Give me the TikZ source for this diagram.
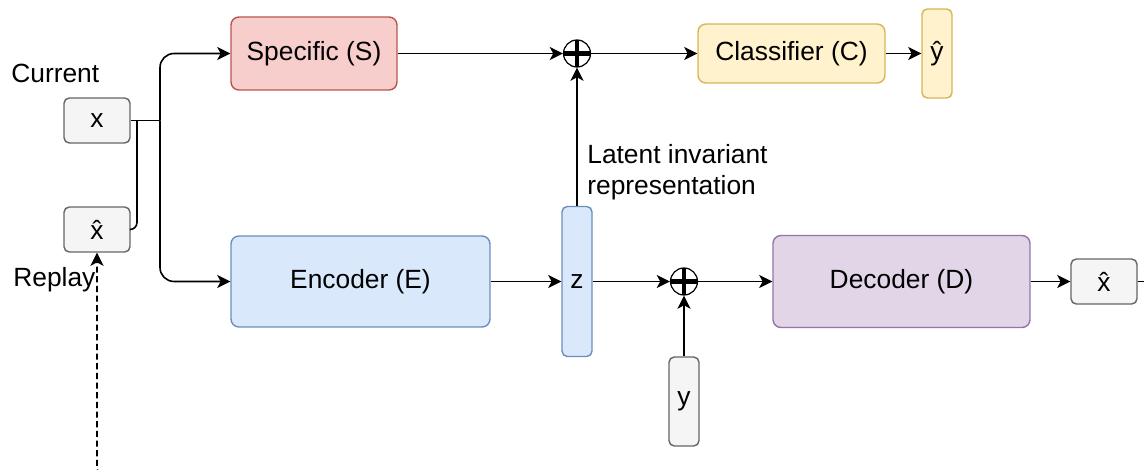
\documentclass[tikz,border=0pt]{standalone}
\usepackage{fontspec}
\setmainfont{Liberation Sans}
\usetikzlibrary{arrows.meta}

\definecolor{specfill}{HTML}{F8CECC}
\definecolor{specline}{HTML}{B85450}
\definecolor{clsfill}{HTML}{FFF2CC}
\definecolor{clsline}{HTML}{D6B656}
\definecolor{encfill}{HTML}{DAE8FC}
\definecolor{encline}{HTML}{6C8EBF}
\definecolor{decfill}{HTML}{E1D5E7}
\definecolor{decline}{HTML}{9673A6}
\definecolor{datafill}{HTML}{F5F5F5}
\definecolor{dataline}{HTML}{666666}

\begin{document}
\begin{tikzpicture}[x=0.02cm, y=-0.02cm,
    font=\fontsize{15}{18}\selectfont,
    block/.style={draw, rounded corners=4.5pt, line width=0.8pt, inner sep=0pt},
    vec/.style={draw=dataline, fill=datafill, rounded corners=3pt, line width=0.8pt, inner sep=0pt},
    sumnode/.style={circle, draw, line width=0.7pt, minimum size=0.54cm, inner sep=0pt,
        path picture={\draw[line width=2.4pt]
            (path picture bounding box.north) -- (path picture bounding box.south)
            (path picture bounding box.west) -- (path picture bounding box.east);}},
    conn/.style={line width=0.9pt, -{Stealth[length=7.5pt, width=7.5pt, inset=2pt]}},
    label/.style={inner sep=0pt}]
    \useasboundingbox (0,0) rectangle (1144,470);

    % inputs
    \node[vec, minimum width=1.32cm, minimum height=0.9cm] (x) at (97,120.5) {x};
    \node[vec, minimum width=1.32cm, minimum height=0.9cm] (xh) at (97,229.5) {\^x};
    \node[label, anchor=west] (current) at (11,73) {Current};
    \node[label, anchor=west] (replay) at (13,280) {Replay};

    % upper branch
    \node[block, fill=specfill, draw=specline, minimum width=3.32cm, minimum height=1.46cm] (spec) at (314,53.5) {Specific (S)};
    \node[sumnode] (sumtop) at (577,53.5) {};
    \node[block, fill=clsfill, draw=clsline, minimum width=3.74cm, minimum height=1.18cm] (cls) at (791.5,53.5) {Classifier (C)};
    \node[block, fill=clsfill, draw=clsline, rounded corners=3pt, minimum width=0.6cm, minimum height=1.78cm] (yh) at (937,53.5) {\^y};

    % lower branch
    \node[block, fill=encfill, draw=encline, minimum width=5.18cm, minimum height=1.82cm] (enc) at (360.5,281.5) {Encoder (E)};
    \node[block, fill=encfill, draw=encline, rounded corners=3pt, minimum width=0.6cm, minimum height=3cm] (z) at (577,281.5) {z};
    \node[sumnode] (sumbot) at (684,281.5) {};
    \node[vec, minimum width=0.6cm, minimum height=1.78cm] (y) at (684,401.5) {y};
    \node[block, fill=decfill, draw=decline, minimum width=5.14cm, minimum height=1.84cm] (dec) at (901.5,281.5) {Decoder (D)};
    \node[vec, minimum width=1.32cm, minimum height=0.9cm] (xout) at (1104,281.5) {\^x};

    \node[label, anchor=west, align=left] (latent) at (587,172) {Latent invariant\\representation};

    % connectors
    \coordinate (split) at (160,120.5);
    \coordinate (join) at (137,120.5);
    \draw[line width=0.9pt] (x) -- (split);
    \draw[line width=0.9pt, rounded corners=4pt] (xh) -- (xh -| join) -- (join);
    \draw[conn, rounded corners=8pt] (split) |- (spec);
    \draw[conn, rounded corners=8pt] (split) |- (enc);
    \draw[conn] (spec) -- (sumtop);
    \draw[conn] (sumtop) -- (cls);
    \draw[conn] (cls) -- (yh);
    \draw[conn] (z) -- (sumtop);
    \draw[conn] (enc) -- (z);
    \draw[conn] (z) -- (sumbot);
    \draw[conn] (y) -- (sumbot);
    \draw[conn] (sumbot) -- (dec);
    \draw[conn] (dec) -- (xout);

    % loop back to the replay input
    \coordinate (loopout) at (1160,281.5);
    \coordinate (loopin) at (140,474);
    \draw[line width=0.9pt] (xout) -- (loopout);
    \draw[conn, dash pattern=on 3.5pt off 2pt, rounded corners=3.5pt] (loopin) -| (xh);
\end{tikzpicture}
\end{document}
